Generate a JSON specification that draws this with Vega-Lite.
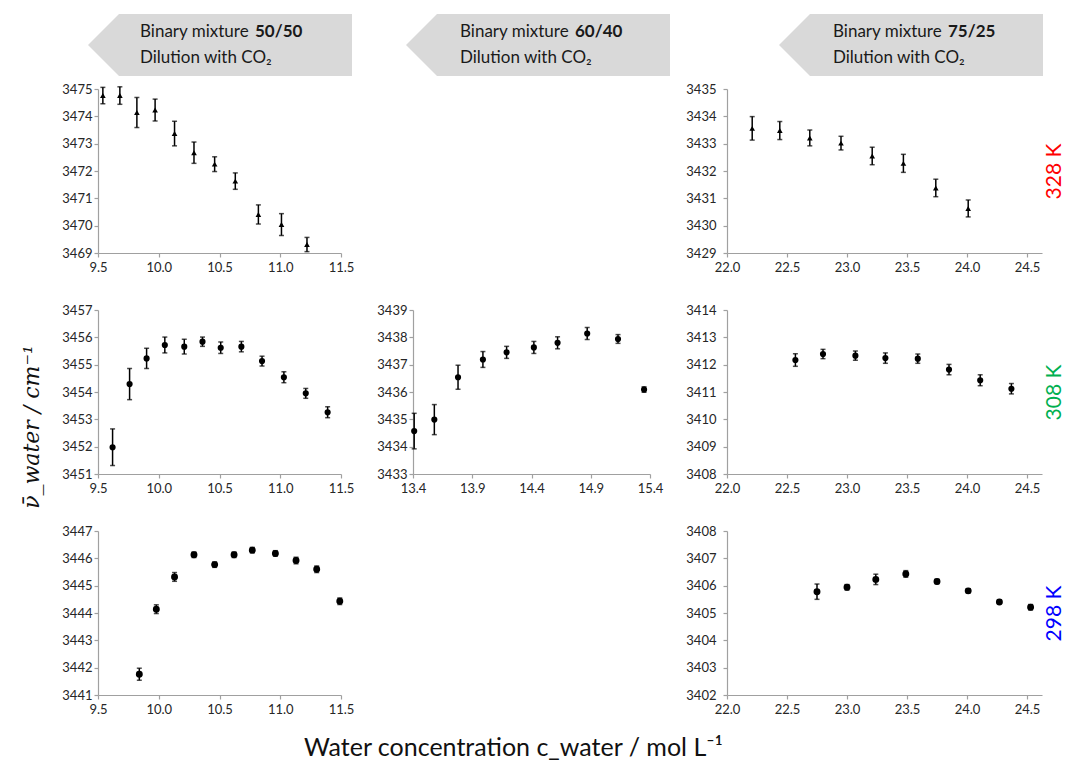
{
  "$schema": "https://vega.github.io/schema/vega-lite/v6.json",
  "background": "white",
  "padding": {"left": 13, "top": 13, "right": 0, "bottom": 0},
  "config": {
    "view": {"stroke": null},
    "font": "Lato",
    "axis": {"domainColor": "#a0a0a0", "tickColor": "#a0a0a0", "labelColor": "#262626", "labelFontSize": 13, "labelFont": "Lato", "grid": false, "tickSize": 4, "domainWidth": 1.2, "tickWidth": 1.2, "labelFlush": false, "labelOverlap": false}
  },
  "title": {"text": "Water concentration c_water / mol L⁻¹", "orient": "bottom", "anchor": "middle", "fontSize": 25, "fontWeight": "normal", "font": "Lato", "color": "#111111", "offset": 20, "dx": -25},
  "datasets": {
    "d50_328": [
      {"c": 9.54, "v": 3474.76, "e": 0.3}, {"c": 9.68, "v": 3474.76, "e": 0.32}, {"c": 9.82, "v": 3474.14, "e": 0.55},
      {"c": 9.97, "v": 3474.23, "e": 0.4}, {"c": 10.13, "v": 3473.37, "e": 0.45}, {"c": 10.29, "v": 3472.67, "e": 0.39},
      {"c": 10.46, "v": 3472.25, "e": 0.27}, {"c": 10.63, "v": 3471.63, "e": 0.3}, {"c": 10.82, "v": 3470.41, "e": 0.35},
      {"c": 11.01, "v": 3470.04, "e": 0.4}, {"c": 11.22, "v": 3469.31, "e": 0.26}
    ],
    "d75_328": [
      {"c": 22.21, "v": 3433.56, "e": 0.43}, {"c": 22.44, "v": 3433.48, "e": 0.33}, {"c": 22.69, "v": 3433.21, "e": 0.29},
      {"c": 22.95, "v": 3433.02, "e": 0.25}, {"c": 23.21, "v": 3432.55, "e": 0.32}, {"c": 23.47, "v": 3432.28, "e": 0.33},
      {"c": 23.74, "v": 3431.38, "e": 0.32}, {"c": 24.01, "v": 3430.63, "e": 0.31}
    ],
    "d50_308": [
      {"c": 9.62, "v": 3451.98, "e": 0.67}, {"c": 9.76, "v": 3454.29, "e": 0.57}, {"c": 9.9, "v": 3455.23, "e": 0.37},
      {"c": 10.05, "v": 3455.72, "e": 0.29}, {"c": 10.21, "v": 3455.66, "e": 0.27}, {"c": 10.36, "v": 3455.84, "e": 0.17},
      {"c": 10.51, "v": 3455.62, "e": 0.21}, {"c": 10.68, "v": 3455.66, "e": 0.19}, {"c": 10.85, "v": 3455.13, "e": 0.18},
      {"c": 11.03, "v": 3454.54, "e": 0.2}, {"c": 11.21, "v": 3453.95, "e": 0.18}, {"c": 11.39, "v": 3453.26, "e": 0.2}
    ],
    "d60_308": [
      {"c": 13.41, "v": 3434.57, "e": 0.65}, {"c": 13.58, "v": 3434.99, "e": 0.55}, {"c": 13.78, "v": 3436.54, "e": 0.44},
      {"c": 13.99, "v": 3437.19, "e": 0.29}, {"c": 14.19, "v": 3437.45, "e": 0.22}, {"c": 14.42, "v": 3437.63, "e": 0.22},
      {"c": 14.62, "v": 3437.8, "e": 0.22}, {"c": 14.87, "v": 3438.14, "e": 0.22}, {"c": 15.13, "v": 3437.94, "e": 0.16},
      {"c": 15.35, "v": 3436.09, "e": 0.1}
    ],
    "d75_308": [
      {"c": 22.57, "v": 3412.17, "e": 0.23}, {"c": 22.8, "v": 3412.39, "e": 0.17}, {"c": 23.07, "v": 3412.33, "e": 0.17},
      {"c": 23.32, "v": 3412.24, "e": 0.19}, {"c": 23.59, "v": 3412.22, "e": 0.17}, {"c": 23.85, "v": 3411.82, "e": 0.19},
      {"c": 24.11, "v": 3411.43, "e": 0.2}, {"c": 24.37, "v": 3411.12, "e": 0.19}
    ],
    "d50_298": [
      {"c": 9.84, "v": 3441.76, "e": 0.22}, {"c": 9.98, "v": 3444.14, "e": 0.16}, {"c": 10.13, "v": 3445.32, "e": 0.16},
      {"c": 10.29, "v": 3446.13, "e": 0.1}, {"c": 10.46, "v": 3445.77, "e": 0.1}, {"c": 10.62, "v": 3446.13, "e": 0.1},
      {"c": 10.77, "v": 3446.3, "e": 0.1}, {"c": 10.96, "v": 3446.18, "e": 0.1}, {"c": 11.13, "v": 3445.92, "e": 0.12},
      {"c": 11.3, "v": 3445.6, "e": 0.12}, {"c": 11.49, "v": 3444.43, "e": 0.12}
    ],
    "d75_298": [
      {"c": 22.75, "v": 3405.78, "e": 0.28}, {"c": 23.0, "v": 3405.94, "e": 0.1}, {"c": 23.24, "v": 3406.23, "e": 0.19},
      {"c": 23.49, "v": 3406.43, "e": 0.12}, {"c": 23.75, "v": 3406.15, "e": 0.08}, {"c": 24.01, "v": 3405.81, "e": 0.08},
      {"c": 24.27, "v": 3405.4, "e": 0.06}, {"c": 24.53, "v": 3405.21, "e": 0.1}
    ]
  },
  "spacing": 6,
  "vconcat": [
    {
      "spacing": 0,
      "hconcat": [
        {"width": 75, "height": 62, "data": {"values": [{}]}, "mark": {"type": "text", "text": ""}},
        {"width": 264, "height": 62,
         "data": {"values": [{"row": 1, "a": "Binary mixture", "b": "50/50"}, {"row": 2, "a": "Dilution with CO₂", "b": ""}]},
         "layer": [
           {"transform": [{"filter": "datum.row == 1"}], "mark": {"type": "point", "shape": "M -1 0 L -0.765 -0.235 L 1 -0.235 L 1 0.235 L -0.765 0.235 Z", "size": 69696, "filled": true, "color": "#d9d9d9", "opacity": 1, "strokeWidth": 0}},
           {"mark": {"type": "text", "align": "left", "baseline": "middle", "dx": -80, "fontSize": 17, "color": "#1a1a1a"}, "encoding": {"y": {"field": "row", "type": "ordinal", "axis": null, "scale": {"type": "point", "padding": 0.72}}, "text": {"field": "a"}}},
           {"mark": {"type": "text", "align": "left", "baseline": "middle", "dx": 35, "fontSize": 17, "fontWeight": "bold", "color": "#1a1a1a"}, "encoding": {"y": {"field": "row", "type": "ordinal", "axis": null}, "text": {"field": "b"}}}
         ]},
        {"width": 54, "height": 62, "data": {"values": [{}]}, "mark": {"type": "text", "text": ""}},
        {"width": 264, "height": 62,
         "data": {"values": [{"row": 1, "a": "Binary mixture", "b": "60/40"}, {"row": 2, "a": "Dilution with CO₂", "b": ""}]},
         "layer": [
           {"transform": [{"filter": "datum.row == 1"}], "mark": {"type": "point", "shape": "M -1 0 L -0.765 -0.235 L 1 -0.235 L 1 0.235 L -0.765 0.235 Z", "size": 69696, "filled": true, "color": "#d9d9d9", "opacity": 1, "strokeWidth": 0}},
           {"mark": {"type": "text", "align": "left", "baseline": "middle", "dx": -78, "fontSize": 17, "color": "#1a1a1a"}, "encoding": {"y": {"field": "row", "type": "ordinal", "axis": null, "scale": {"type": "point", "padding": 0.72}}, "text": {"field": "a"}}},
           {"mark": {"type": "text", "align": "left", "baseline": "middle", "dx": 37, "fontSize": 17, "fontWeight": "bold", "color": "#1a1a1a"}, "encoding": {"y": {"field": "row", "type": "ordinal", "axis": null}, "text": {"field": "b"}}}
         ]},
        {"width": 109, "height": 62, "data": {"values": [{}]}, "mark": {"type": "text", "text": ""}},
        {"width": 264, "height": 62,
         "data": {"values": [{"row": 1, "a": "Binary mixture", "b": "75/25"}, {"row": 2, "a": "Dilution with CO₂", "b": ""}]},
         "layer": [
           {"transform": [{"filter": "datum.row == 1"}], "mark": {"type": "point", "shape": "M -1 0 L -0.765 -0.235 L 1 -0.235 L 1 0.235 L -0.765 0.235 Z", "size": 69696, "filled": true, "color": "#d9d9d9", "opacity": 1, "strokeWidth": 0}},
           {"mark": {"type": "text", "align": "left", "baseline": "middle", "dx": -78, "fontSize": 17, "color": "#1a1a1a"}, "encoding": {"y": {"field": "row", "type": "ordinal", "axis": null, "scale": {"type": "point", "padding": 0.72}}, "text": {"field": "a"}}},
           {"mark": {"type": "text", "align": "left", "baseline": "middle", "dx": 37, "fontSize": 17, "fontWeight": "bold", "color": "#1a1a1a"}, "encoding": {"y": {"field": "row", "type": "ordinal", "axis": null}, "text": {"field": "b"}}}
         ]}
      ]
    },
    {
      "spacing": 10,
      "hconcat": [
        {"width": 38, "height": 620, "data": {"values": [{"t": "ν̄_water / cm⁻¹"}]},
         "mark": {"type": "text", "angle": 270, "fontSize": 22, "fontStyle": "italic", "font": "DejaVu Serif", "color": "#111111", "baseline": "middle", "dx": -28},
         "encoding": {"text": {"field": "t"}}},
        {
          "columns": 3,
          "spacing": {"row": 30, "column": 22},
          "concat": [
            {"width": 243, "height": 164, "data": {"name": "d50_328"},
             "layer": [
               {"mark": {"type": "errorbar", "ticks": true, "color": "black", "thickness": 1.5},
                "encoding": {
                  "x": {"field": "c", "type": "quantitative", "scale": {"domain": [9.5, 11.5], "nice": false}, "axis": {"values": [9.5, 10, 10.5, 11, 11.5], "format": ".1f", "title": null, "labelPadding": 4, "labelOverlap": false}},
                  "y": {"field": "v", "type": "quantitative", "scale": {"domain": [3469, 3475], "nice": false, "zero": false}, "axis": {"values": [3469, 3470, 3471, 3472, 3473, 3474, 3475], "format": "d", "title": null, "labelPadding": 2, "labelOverlap": false}},
                  "yError": {"field": "e"}}},
               {"mark": {"type": "point", "shape": "triangle-up", "filled": true, "color": "black", "size": 32, "opacity": 1},
                "encoding": {"x": {"field": "c", "type": "quantitative", "axis": {"values": [9.5, 10, 10.5, 11, 11.5], "format": ".1f", "title": null, "labelPadding": 4, "labelOverlap": false}}, "y": {"field": "v", "type": "quantitative", "axis": {"values": [3469, 3470, 3471, 3472, 3473, 3474, 3475], "format": "d", "title": null, "labelPadding": 2, "labelOverlap": false}}}}
             ]},
            {"width": 237, "height": 164, "data": {"values": [{}]}, "mark": {"type": "text", "text": ""}},
            {"width": 315, "height": 164, "data": {"name": "d75_328"},
             "resolve": {"axis": {"y": "independent"}},
             "layer": [
               {"mark": {"type": "errorbar", "ticks": true, "color": "black", "thickness": 1.5},
                "encoding": {
                  "x": {"field": "c", "type": "quantitative", "scale": {"domain": [22, 24.625], "nice": false}, "axis": {"values": [22, 22.5, 23, 23.5, 24, 24.5], "format": ".1f", "title": null, "labelPadding": 4, "labelOverlap": false}},
                  "y": {"field": "v", "type": "quantitative", "scale": {"domain": [3429, 3435], "nice": false, "zero": false}, "axis": {"values": [3429, 3430, 3431, 3432, 3433, 3434, 3435], "format": "d", "title": null, "labelPadding": 7, "labelOverlap": false}},
                  "yError": {"field": "e"}}},
               {"mark": {"type": "point", "shape": "triangle-up", "filled": true, "color": "black", "size": 32, "opacity": 1},
                "encoding": {"x": {"field": "c", "type": "quantitative", "axis": {"values": [22, 22.5, 23, 23.5, 24, 24.5], "format": ".1f", "title": null, "labelPadding": 4, "labelOverlap": false}}, "y": {"field": "v", "type": "quantitative", "axis": null}}},
               {"mark": {"type": "point", "opacity": 0},
                "encoding": {"x": {"field": "c", "type": "quantitative", "axis": {"values": [22, 22.5, 23, 23.5, 24, 24.5], "format": ".1f", "title": null, "labelPadding": 4, "labelOverlap": false}}, "y": {"field": "v", "type": "quantitative", "axis": {"orient": "right", "labels": false, "ticks": false, "domain": false, "title": "328 K", "titleColor": "#ff0000", "titleFontSize": 21, "titleFontWeight": "normal", "titleAngle": 270, "titleBaseline": "top", "titlePadding": 1, "titleFont": "Lato"}}}}
             ]},
            {"width": 243, "height": 164, "data": {"name": "d50_308"},
             "layer": [
               {"mark": {"type": "errorbar", "ticks": true, "color": "black", "thickness": 1.5},
                "encoding": {
                  "x": {"field": "c", "type": "quantitative", "scale": {"domain": [9.5, 11.5], "nice": false}, "axis": {"values": [9.5, 10, 10.5, 11, 11.5], "format": ".1f", "title": null, "labelPadding": 4, "labelOverlap": false}},
                  "y": {"field": "v", "type": "quantitative", "scale": {"domain": [3451, 3457], "nice": false, "zero": false}, "axis": {"values": [3451, 3452, 3453, 3454, 3455, 3456, 3457], "format": "d", "title": null, "labelPadding": 2, "labelOverlap": false}},
                  "yError": {"field": "e"}}},
               {"mark": {"type": "point", "shape": "circle", "filled": true, "color": "black", "size": 38, "opacity": 1},
                "encoding": {"x": {"field": "c", "type": "quantitative", "axis": {"values": [9.5, 10, 10.5, 11, 11.5], "format": ".1f", "title": null, "labelPadding": 4, "labelOverlap": false}}, "y": {"field": "v", "type": "quantitative", "axis": {"values": [3451, 3452, 3453, 3454, 3455, 3456, 3457], "format": "d", "title": null, "labelPadding": 2, "labelOverlap": false}}}}
             ]},
            {"width": 237, "height": 164, "data": {"name": "d60_308"},
             "layer": [
               {"mark": {"type": "errorbar", "ticks": true, "color": "black", "thickness": 1.5},
                "encoding": {
                  "x": {"field": "c", "type": "quantitative", "scale": {"domain": [13.4, 15.4], "nice": false}, "axis": {"values": [13.4, 13.9, 14.4, 14.9, 15.4], "format": ".1f", "title": null, "labelPadding": 4, "labelOverlap": false}},
                  "y": {"field": "v", "type": "quantitative", "scale": {"domain": [3433, 3439], "nice": false, "zero": false}, "axis": {"values": [3433, 3434, 3435, 3436, 3437, 3438, 3439], "format": "d", "title": null, "labelPadding": 2, "labelOverlap": false}},
                  "yError": {"field": "e"}}},
               {"mark": {"type": "point", "shape": "circle", "filled": true, "color": "black", "size": 38, "opacity": 1},
                "encoding": {"x": {"field": "c", "type": "quantitative", "axis": {"values": [13.4, 13.9, 14.4, 14.9, 15.4], "format": ".1f", "title": null, "labelPadding": 4, "labelOverlap": false}}, "y": {"field": "v", "type": "quantitative", "axis": {"values": [3433, 3434, 3435, 3436, 3437, 3438, 3439], "format": "d", "title": null, "labelPadding": 2, "labelOverlap": false}}}}
             ]},
            {"width": 315, "height": 164, "data": {"name": "d75_308"},
             "resolve": {"axis": {"y": "independent"}},
             "layer": [
               {"mark": {"type": "errorbar", "ticks": true, "color": "black", "thickness": 1.5},
                "encoding": {
                  "x": {"field": "c", "type": "quantitative", "scale": {"domain": [22, 24.625], "nice": false}, "axis": {"values": [22, 22.5, 23, 23.5, 24, 24.5], "format": ".1f", "title": null, "labelPadding": 4, "labelOverlap": false}},
                  "y": {"field": "v", "type": "quantitative", "scale": {"domain": [3408, 3414], "nice": false, "zero": false}, "axis": {"values": [3408, 3409, 3410, 3411, 3412, 3413, 3414], "format": "d", "title": null, "labelPadding": 7, "labelOverlap": false}},
                  "yError": {"field": "e"}}},
               {"mark": {"type": "point", "shape": "circle", "filled": true, "color": "black", "size": 38, "opacity": 1},
                "encoding": {"x": {"field": "c", "type": "quantitative", "axis": {"values": [22, 22.5, 23, 23.5, 24, 24.5], "format": ".1f", "title": null, "labelPadding": 4, "labelOverlap": false}}, "y": {"field": "v", "type": "quantitative", "axis": null}}},
               {"mark": {"type": "point", "opacity": 0},
                "encoding": {"x": {"field": "c", "type": "quantitative", "axis": {"values": [22, 22.5, 23, 23.5, 24, 24.5], "format": ".1f", "title": null, "labelPadding": 4, "labelOverlap": false}}, "y": {"field": "v", "type": "quantitative", "axis": {"orient": "right", "labels": false, "ticks": false, "domain": false, "title": "308 K", "titleColor": "#00b050", "titleFontSize": 21, "titleFontWeight": "normal", "titleAngle": 270, "titleBaseline": "top", "titlePadding": 1, "titleFont": "Lato"}}}}
             ]},
            {"width": 243, "height": 164, "data": {"name": "d50_298"},
             "layer": [
               {"mark": {"type": "errorbar", "ticks": true, "color": "black", "thickness": 1.5},
                "encoding": {
                  "x": {"field": "c", "type": "quantitative", "scale": {"domain": [9.5, 11.5], "nice": false}, "axis": {"values": [9.5, 10, 10.5, 11, 11.5], "format": ".1f", "title": null, "labelPadding": 4, "labelOverlap": false}},
                  "y": {"field": "v", "type": "quantitative", "scale": {"domain": [3441, 3447], "nice": false, "zero": false}, "axis": {"values": [3441, 3442, 3443, 3444, 3445, 3446, 3447], "format": "d", "title": null, "labelPadding": 2, "labelOverlap": false}},
                  "yError": {"field": "e"}}},
               {"mark": {"type": "point", "shape": "circle", "filled": true, "color": "black", "size": 48, "opacity": 1},
                "encoding": {"x": {"field": "c", "type": "quantitative", "axis": {"values": [9.5, 10, 10.5, 11, 11.5], "format": ".1f", "title": null, "labelPadding": 4, "labelOverlap": false}}, "y": {"field": "v", "type": "quantitative", "axis": {"values": [3441, 3442, 3443, 3444, 3445, 3446, 3447], "format": "d", "title": null, "labelPadding": 2, "labelOverlap": false}}}}
             ]},
            {"width": 237, "height": 164, "data": {"values": [{}]}, "mark": {"type": "text", "text": ""}},
            {"width": 315, "height": 164, "data": {"name": "d75_298"},
             "resolve": {"axis": {"y": "independent"}},
             "layer": [
               {"mark": {"type": "errorbar", "ticks": true, "color": "black", "thickness": 1.5},
                "encoding": {
                  "x": {"field": "c", "type": "quantitative", "scale": {"domain": [22, 24.625], "nice": false}, "axis": {"values": [22, 22.5, 23, 23.5, 24, 24.5], "format": ".1f", "title": null, "labelPadding": 4, "labelOverlap": false}},
                  "y": {"field": "v", "type": "quantitative", "scale": {"domain": [3402, 3408], "nice": false, "zero": false}, "axis": {"values": [3402, 3403, 3404, 3405, 3406, 3407, 3408], "format": "d", "title": null, "labelPadding": 7, "labelOverlap": false}},
                  "yError": {"field": "e"}}},
               {"mark": {"type": "point", "shape": "circle", "filled": true, "color": "black", "size": 48, "opacity": 1},
                "encoding": {"x": {"field": "c", "type": "quantitative", "axis": {"values": [22, 22.5, 23, 23.5, 24, 24.5], "format": ".1f", "title": null, "labelPadding": 4, "labelOverlap": false}}, "y": {"field": "v", "type": "quantitative", "axis": null}}},
               {"mark": {"type": "point", "opacity": 0},
                "encoding": {"x": {"field": "c", "type": "quantitative", "axis": {"values": [22, 22.5, 23, 23.5, 24, 24.5], "format": ".1f", "title": null, "labelPadding": 4, "labelOverlap": false}}, "y": {"field": "v", "type": "quantitative", "axis": {"orient": "right", "labels": false, "ticks": false, "domain": false, "title": "298 K", "titleColor": "#0000ff", "titleFontSize": 21, "titleFontWeight": "normal", "titleAngle": 270, "titleBaseline": "top", "titlePadding": 1, "titleFont": "Lato"}}}}
             ]}
          ]
        }
      ]
    }
  ]
}
